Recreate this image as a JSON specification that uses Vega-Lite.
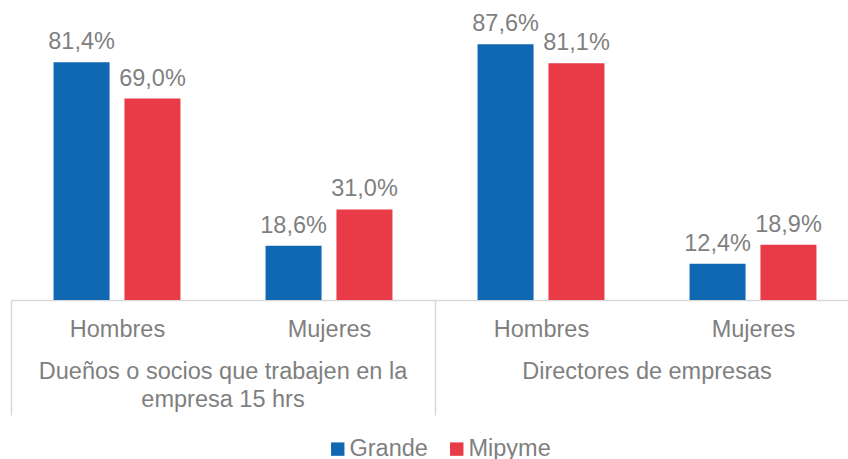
{
  "$schema": "https://vega.github.io/schema/vega-lite/v6.json",
  "width": 837,
  "height": 292,
  "autosize": {"type": "none"},
  "padding": {"left": 11, "top": 8, "right": 0, "bottom": 159},
  "config": {
    "view": {"stroke": null},
    "font": "Liberation Sans",
    "locale": {"number": {"decimal": ",", "thousands": ".", "grouping": [3], "currency": ["", "€"]}}
  },
  "data": {
    "values": [
      {"cat": "Dueños|Hombres", "serie": "Grande", "valor": 0.814},
      {"cat": "Dueños|Hombres", "serie": "Mipyme", "valor": 0.690},
      {"cat": "Dueños|Mujeres", "serie": "Grande", "valor": 0.186},
      {"cat": "Dueños|Mujeres", "serie": "Mipyme", "valor": 0.310},
      {"cat": "Directores|Hombres", "serie": "Grande", "valor": 0.876},
      {"cat": "Directores|Hombres", "serie": "Mipyme", "valor": 0.811},
      {"cat": "Directores|Mujeres", "serie": "Grande", "valor": 0.124},
      {"cat": "Directores|Mujeres", "serie": "Mipyme", "valor": 0.189}
    ]
  },
  "layer": [
    {
      "mark": {"type": "bar"},
      "encoding": {
        "x": {
          "field": "cat", "type": "nominal",
          "scale": {"domain": ["Dueños|Hombres", "Dueños|Mujeres", "Directores|Hombres", "Directores|Mujeres"], "range": [0, 848], "paddingInner": 0, "paddingOuter": 0},
          "axis": {
            "title": null,
            "domainColor": "#d9d9d9", "domainWidth": 1.5,
            "ticks": true, "tickBand": "extent", "tickSize": 115,
            "tickColor": "#d9d9d9", "tickWidth": 1.5,
            "tickOpacity": {"condition": {"test": "!isValid(datum.value) || datum.value === 'Dueños|Mujeres'", "value": 1}, "value": 0},
            "labelExpr": "split(datum.value, '|')[1]",
            "labelAngle": 0, "labelFontSize": 23.5, "labelColor": "#7f7f7f",
            "labelBaseline": "top", "labelPadding": -98, "labelFont": "Liberation Sans"
          }
        },
        "xOffset": {"field": "serie", "type": "nominal", "sort": ["Grande", "Mipyme"], "scale": {"paddingInner": 0.21, "paddingOuter": 0.6}},
        "y": {"field": "valor", "type": "quantitative", "scale": {"domain": [0, 1]}, "axis": null},
        "color": {
          "field": "serie", "type": "nominal",
          "scale": {"domain": ["Grande", "Mipyme"], "range": ["#1067b2", "#e83a47"]},
          "legend": {
            "title": null, "orient": "none", "direction": "horizontal",
            "legendX": 315, "legendY": 429,
            "symbolType": "square", "symbolSize": 180, "symbolStrokeWidth": 0,
            "labelFontSize": 23.5, "labelColor": "#7f7f7f", "labelOffset": 0,
            "columnPadding": 17, "labelFont": "Liberation Sans"
          }
        }
      }
    },
    {
      "mark": {"type": "text", "dy": -13, "fontSize": 23.5, "color": "#7f7f7f", "baseline": "alphabetic"},
      "encoding": {
        "x": {"field": "cat", "type": "nominal"},
        "xOffset": {"field": "serie", "type": "nominal", "sort": ["Grande", "Mipyme"]},
        "y": {"field": "valor", "type": "quantitative"},
        "text": {"field": "valor", "type": "quantitative", "format": ".1%"}
      }
    },
    {
      "data": {
        "values": [
          {"cat": "Dueños|Mujeres", "titulo": "Dueños o socios que trabajen en la\nempresa 15 hrs"},
          {"cat": "Directores|Mujeres", "titulo": "Directores de empresas"}
        ]
      },
      "mark": {"type": "text", "baseline": "alphabetic", "dy": 79, "lineHeight": 28, "lineBreak": "\n", "fontSize": 23.5, "color": "#7f7f7f"},
      "encoding": {
        "x": {"field": "cat", "type": "nominal", "bandPosition": 0},
        "y": {"datum": 0},
        "text": {"field": "titulo", "type": "nominal"}
      }
    }
  ]
}
